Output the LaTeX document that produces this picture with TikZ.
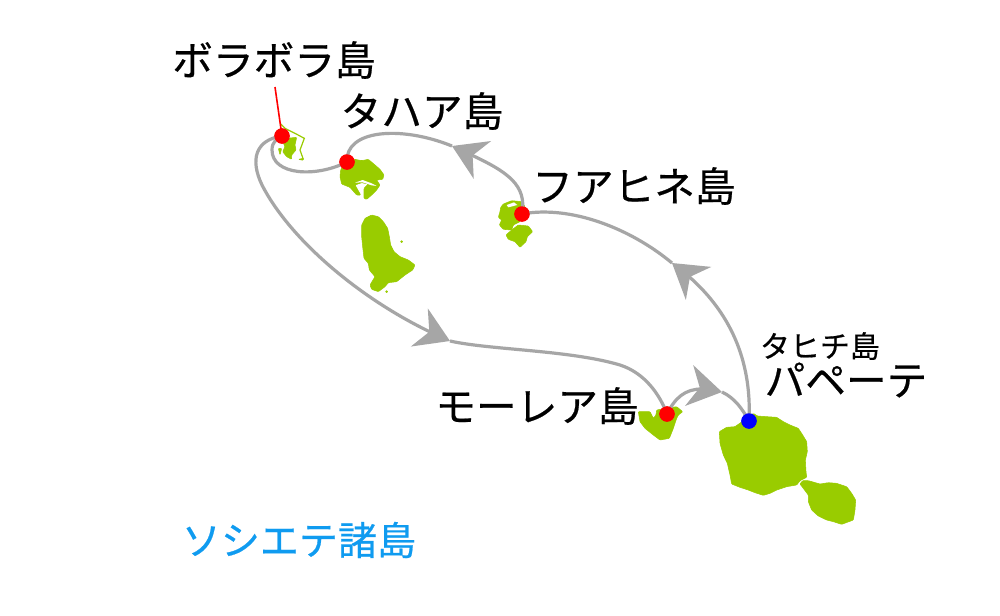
\documentclass[tikz,border=0pt]{standalone}
\usepackage{fontspec}
\setmainfont[FakeBold=0.5]{Noto Sans CJK JP}
\usetikzlibrary{arrows.meta,bending}
\definecolor{land}{HTML}{99CC00}
\definecolor{route}{HTML}{A6A6A6}
\definecolor{seablue}{HTML}{0F9BF0}
\tikzset{
 x=0.75pt,y=-0.75pt,
 island/.style={fill=land,draw=land,line width=0.4pt,line join=round,rounded corners=0.6pt},
 hole/.style={fill=white,draw=none},
 leg/.style={draw=route,line width=2.4pt},
 legtip/.style={leg,-{Stealth[length=25pt,width=31pt,inset=8pt,color=route,flex=0.6]}},
 stop/.style={circle,fill=red,inner sep=0pt,minimum size=11.5pt},
 hub/.style={stop,fill=blue},
 biglabel/.style={font=\fontsize{30.5}{30}\selectfont,text=black,inner sep=0pt},
 smalllabel/.style={font=\fontsize{22.5}{24}\selectfont,text=black,inner sep=0pt},
 zoomA/.style={shift={(240,100)},x=0.25pt,y=-0.25pt},
 zoomB/.style={shift={(620,360)},x=0.25pt,y=-0.25pt},
 zoomC/.style={shift={(440,130)},x=0.25pt,y=-0.25pt},
}
\begin{document}
\begin{tikzpicture}
\path[use as bounding box,fill=white] (0,0) rectangle (1000,615);
% islands
\begin{scope}[zoomB]
\fill[island] (298,215)--(320,202)--(345,200)--(362,188)--(385,172)--(400,160)--(412,168)--(440,170)--(470,172)--(490,185)--(510,195)--(535,205)--(548,225)--(560,245)--(562,275)--(556,300)--(558,335)--(560,352)--(540,362)--(530,375)--(500,380)--(470,390)--(450,400)--(430,406)--(405,398)--(385,390)--(360,382)--(335,372)--(330,345)--(322,310)--(310,285)--(300,250)--cycle;
\fill[island] (540,372)--(548,362)--(565,362)--(600,372)--(625,368)--(650,370)--(680,380)--(695,400)--(707,420)--(705,450)--(700,480)--(665,493)--(640,485)--(620,480)--(595,468)--(575,450)--(565,425)--(565,405)--cycle;
\fill[island] (55,155)--(90,155)--(100,175)--(108,165)--(110,150)--(140,145)--(170,140)--(188,155)--(175,165)--(170,175)--(160,205)--(148,235)--(120,240)--(100,225)--(75,205)--(60,185)--cycle;
\end{scope}
\begin{scope}[zoomA]
\fill[island] (302,210)--(310,195)--(330,182)--(345,178)--(365,182)--(385,178)--(405,195)--(420,208)--(432,225)--(428,238)--(410,240)--(420,255)--(410,270)--(395,285)--(380,298)--(372,295)--(372,265)--(385,252)--(365,248)--(345,255)--(362,285)--(350,285)--(330,262)--(305,252)--(300,230)--cycle;
\fill[hole] (345,248)--(368,240)--(395,250)--(410,258)--(395,256)--(368,247)--cycle;
\fill[island] (365,375)--(375,355)--(395,345)--(415,350)--(430,365)--(443,385)--(448,410)--(452,435)--(462,455)--(480,470)--(505,480)--(525,495)--(518,510)--(495,525)--(470,545)--(445,548)--(435,560)--(415,575)--(395,568)--(390,555)--(405,530)--(388,510)--(385,490)--(372,475)--(368,440)--(365,410)--cycle;
\fill[island] (485,425) circle (3);
\fill[island] (440,575) circle (3);
\fill[island] (125,118)--(140,115)--(170,112)--(165,135)--(168,150)--(155,165)--(155,178)--(140,170)--(128,155)--(135,140)--cycle;
\fill[island] (115,145)--(125,145)--(120,165)--cycle;
\fill[island] (175,178)--(190,175)--(190,181)--cycle;
\draw[land,line width=0.9pt] (122,72)--(135,85)--(165,100)--(193,115)--(180,150)--(190,178);
\end{scope}
\begin{scope}[zoomC]
\fill[island] (182,232)--(190,222)--(215,212)--(245,215)--(255,230)--(240,275)--(220,285)--(215,300)--(190,298)--(178,285)--(185,270)--(175,262)--(180,245)--cycle;
\fill[island] (198,315)--(215,300)--(235,285)--(265,288)--(278,305)--(262,320)--(258,335)--(240,352)--(225,335)--(205,328)--cycle;
\fill[hole] (200,225)--(222,217)--(232,225)--(205,232)--cycle;
\end{scope}
% stops
\node[stop] (bora) at (282,136) {};
\node[stop] (tahaa) at (347,162) {};
\node[stop] (huahine) at (522,214) {};
\node[stop] (moorea) at (667,414) {};
\node[hub] (papeete) at (749,421) {};
\coordinate (tipA) at (672,263);
\coordinate (tipB) at (452,146);
\coordinate (tipC) at (450,341);
\coordinate (tipD) at (722,392);
\coordinate (boraTop) at (275,87);
% routes
\draw[legtip] (papeete.center) .. controls (752,360) and (730,305) .. (tipA);
\draw[leg] (tipA) .. controls (630,228) and (570,205) .. (huahine.center);
\draw[legtip] (huahine.center) .. controls (528,180) and (500,168) .. (tipB);
\draw[leg] (tipB) .. controls (400,125) and (345,130) .. (tahaa.center);
\draw[leg] (tahaa.center) .. controls (315,178) and (272,175) .. (272,150) .. controls (272,142) and (276,140) .. (bora.center);
\draw[legtip] (bora.center) .. controls (255,140) and (250,160) .. (262,185) .. controls (290,240) and (365,305) .. (tipC);
\draw[leg] (tipC) .. controls (490,350) and (570,350) .. (620,365) .. controls (645,373) and (660,395) .. (moorea.center);
\draw[legtip] (moorea.center) .. controls (678,392) and (692,384) .. (tipD);
\draw[leg] (tipD) .. controls (735,398) and (743,410) .. (papeete.center);
\draw[red,line width=1.2pt] (boraTop) -- (bora.center);
\node[stop] at (bora) {};
\node[stop] at (tahaa) {};
\node[stop] at (huahine) {};
\node[stop] at (moorea) {};
\node[hub] at (papeete) {};
% labels
\node[biglabel] (l1) at (274,60) {ボラボラ島};
\node[biglabel] (l2) at (422,111) {タハア島};
\node[biglabel] (l3) at (634,186) {フアヒネ島};
\node[biglabel] (l4) at (537,406) {モーレア島};
\node[smalllabel] (l5) at (820,346) {タヒチ島};
\node[biglabel] (l6) at (846,380) {パペーテ};
\node[biglabel,text=seablue,font=\fontsize{29.3}{30}\selectfont] (l7) at (299,540) {ソシエテ諸島};
\end{tikzpicture}
\end{document}
